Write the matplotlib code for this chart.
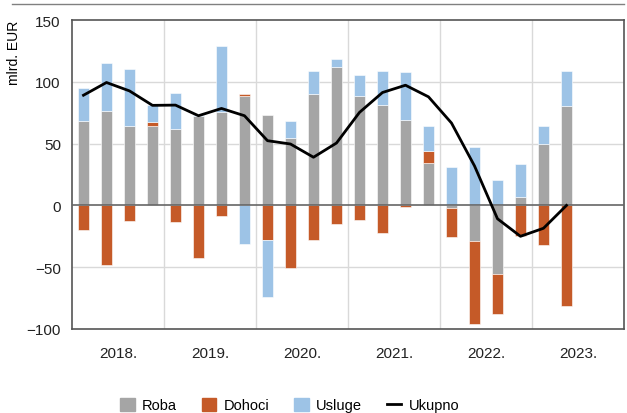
import matplotlib
matplotlib.use("Agg")
import matplotlib.pyplot as plt
import numpy as np
from matplotlib.patches import Patch
from matplotlib.lines import Line2D

plt.rcParams['font.family'] = ['Liberation Sans Narrow', 'Liberation Sans', 'DejaVu Sans']
plt.rcParams['axes.unicode_minus'] = True

# kvartali 2018Q1 - 2023Q2
roba = [68.5, 76.6, 64, 64.5, 61.8, 72.3, 75.3, 88.2, 73.1, 54.3, 90, 111.8,
        88.4, 81.2, 69.1, 34.4, -2.2, -29, -55.9, 7, 49.7, 80.4]
dohoci = [-19.6, -48.4, -12.9, 3.2, -13.7, -42.5, -8.6, 1.8, -28.2, -50.5, -27.7, -15.3,
          -11.8, -22.3, -1.3, 9.7, -23.3, -67, -32, -25, -32, -81.2]
usluge = [26.9, 38.7, 46.2, 13.8, 29.6, 0.5, 53.5, -31.5, -46.3, 14.2, 19.1, 6.7,
          17, 27.9, 38.7, 19.9, 31.5, 47, 20.7, 26.3, 14.3, 28.2]
ukupno = [89.2, 99.5, 92.7, 81, 81.2, 72.6, 78.5, 72.6, 52.4, 49.7, 39, 50.5,
          75.3, 91.4, 97.3, 87.9, 66.7, 32, -10.8, -25, -18.5, 0]
godine = ["2018.", "2019.", "2020.", "2021.", "2022.", "2023."]

boje = {"Roba": "#a5a5a5", "Dohoci": "#c55a28", "Usluge": "#9dc3e6"}

fig = plt.figure(figsize=(6.27, 4.14), dpi=100)
ax = fig.add_axes([0.1148, 0.203, 0.8804, 0.746])

x = np.arange(len(roba))
pos = np.zeros(len(x))
neg = np.zeros(len(x))
for ime, vals in [("Roba", roba), ("Dohoci", dohoci), ("Usluge", usluge)]:
    v = np.array(vals, dtype=float)
    bottom = np.where(v >= 0, pos, neg)
    ax.bar(x, v, width=0.5, bottom=bottom, color=boje[ime], edgecolor="white",
           linewidth=0.4, zorder=3)
    pos = pos + np.where(v >= 0, v, 0)
    neg = neg + np.where(v < 0, v, 0)

ax.plot(x, ukupno, color="black", lw=2, zorder=5)

ax.set_xlim(-0.5, 23.5)
ax.set_ylim(-100, 150)
ax.set_yticks([-100, -50, 0, 50, 100, 150])
ax.set_xticks([1.5 + 4 * i for i in range(len(godine))])
ax.set_xticklabels(godine)
ax.tick_params(axis="both", length=0, labelsize=11, colors="#222222")
ax.tick_params(axis="x", pad=12)
ax.tick_params(axis="y", pad=8)

for yy in [-50, 50, 100]:
    ax.axhline(yy, color="#d9d9d9", lw=1, zorder=1)
ax.axhline(0, color="#666666", lw=1.2, zorder=4)
for k in range(1, 6):
    ax.axvline(4 * k - 0.5, color="#d9d9d9", lw=1, zorder=1)

for s in ax.spines.values():
    s.set_color("#555555")
    s.set_linewidth(1.2)

ax.set_ylabel("mlrd. EUR", fontsize=10, loc="top", labelpad=4)

fig.add_artist(Line2D([12 / 627, 624 / 627], [1 - 5 / 414, 1 - 5 / 414],
                      color="#808080", lw=1, transform=fig.transFigure))

handles = [Patch(color=boje["Roba"]), Patch(color=boje["Dohoci"]),
           Patch(color=boje["Usluge"]), Line2D([], [], color="black", lw=2)]
fig.legend(handles, ["Roba", "Dohoci", "Usluge", "Ukupno"], loc="lower center",
           bbox_to_anchor=(0.462, -0.03), ncol=4, frameon=False, fontsize=10.5,
           handlelength=1.0, handleheight=1.0, columnspacing=1.7, handletextpad=0.5)

fig.savefig("out.png", dpi=100)
